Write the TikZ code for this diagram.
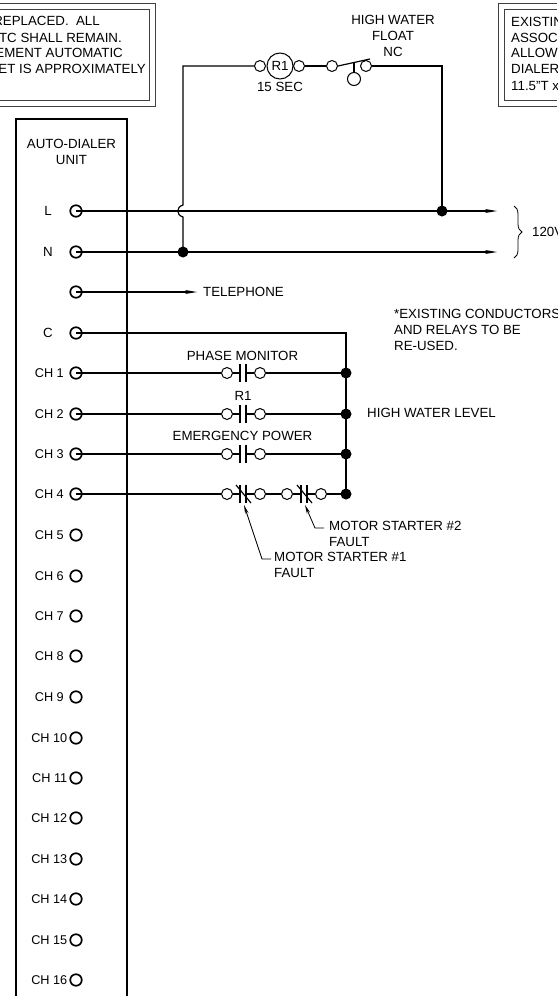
\documentclass[tikz,border=0pt]{standalone}
\usepackage{fontspec}
\setmainfont{Liberation Sans}
\usetikzlibrary{arrows.meta,decorations.pathreplacing}
\tikzset{
  wire/.style={line width=1.2pt},
  feed/.style={wire,-{Stealth[length=12pt,width=4pt]}},
  leader/.style={line width=0.8pt,-{Stealth[length=9pt,width=3.5pt]}},
  frame/.style={line width=1pt,black!75},
  term/.style={circle,draw,line width=1.7pt,minimum size=11.5pt,inner sep=0pt},
  contact/.style={circle,draw,line width=1pt,minimum size=11pt,inner sep=0pt},
  blob/.style={circle,fill,minimum size=11pt,inner sep=0pt},
  lbl/.style={font=\fontsize{13.3}{16}\selectfont,inner sep=0pt,align=center},
  chan/.style={font=\fontsize{12.7}{16}\selectfont,inner sep=0pt,anchor=east},
  note/.style={lbl,align=left}
}
\begin{document}
\begin{tikzpicture}[x=1pt,y=-1pt]
  \useasboundingbox (0,0) rectangle (557,996);
  % note boxes, cut by the sheet edge
  \draw[frame] (0,3) -- (155,3) -- (155,106) -- (0,106);
  \draw[frame] (0,9) -- (149,9) -- (149,100) -- (0,100);
  \draw[frame] (557,3) -- (498,3) -- (498,106) -- (557,106);
  \draw[frame] (557,9) -- (504,9) -- (504,100) -- (557,100);
  \node[lbl,anchor=east] (left1) at (100,21) {REPLACED.\ \ ALL};
  \node[lbl,anchor=east] (left2) at (122,38) {TC SHALL REMAIN.};
  \node[lbl,anchor=east] (left3) at (123,53) {EMENT AUTOMATIC};
  \node[lbl,anchor=east] (left4) at (146,69) {ET IS APPROXIMATELY};
  \node[note,anchor=west] (right1) at (511,22) {EXISTIN};
  \node[note,anchor=west] (right2) at (511,38) {ASSOC};
  \node[note,anchor=west] (right3) at (511,53) {ALLOW};
  \node[note,anchor=west] (right4) at (511,69) {DIALER};
  \node[note,anchor=west] (right5) at (511,86) {11.5"T x};
  % dialer unit
  \draw[line width=1.6pt] (16,996) -- (16,119) -- (127,119) -- (127,996);
  \node[lbl] (unit) at (71.5,152) {AUTO-DIALER\\UNIT};
  \node[term] (tL) at (76,211) {};
  \node[term] (tN) at (76,252) {};
  \node[term] (tT) at (76,292) {};
  \node[term] (tC) at (76,333) {};
  \node[lbl] (lL) at (48,211) {L};
  \node[lbl] (lN) at (48,252) {N};
  \node[lbl] (lC) at (48,333) {C};
  \foreach \n/\y in {1/373,2/414,3/454,4/494,5/535,6/576,7/616,8/656,9/697}{
    \node[term] (ch\n) at (76,\y) {};
    \node[chan] (lch\n) at (64,\y) {CH \n};
  }
  \foreach \n/\y in {10/738,11/778,12/818,13/859,14/899,15/940,16/980}{
    \node[term] (ch\n) at (76,\y) {};
    \node[chan] (lch\n) at (67.5,\y) {CH \n};
  }
  % 120V feed
  \node[blob] (dotL) at (442,211) {};
  \node[blob] (dotN) at (183,252) {};
  \coordinate (endL) at (497,211);
  \coordinate (endN) at (497,252);
  \draw[feed] (tL.center) -- (endL);
  \draw[feed] (tN.center) -- (endN);
  \coordinate (braceT) at (514,206);
  \coordinate (braceB) at (514,258);
  \draw[line width=0.8pt,decorate,decoration={brace,mirror,amplitude=8pt}] (braceB) -- (braceT);
  \node[lbl,anchor=west] (volts) at (532,232) {120V};
  % relay and float
  \node[contact] (r1a) at (260,66) {};
  \node[circle,draw,line width=1pt,minimum size=26pt,inner sep=0pt,lbl] (r1) at (280,66) {R1};
  \node[contact] (r1b) at (299,66) {};
  \node[contact] (sw1) at (332,66) {};
  \node[contact] (sw2) at (366,66) {};
  \node[circle,draw,line width=1pt,minimum size=13pt,inner sep=0pt] (flt) at (354,79) {};
  \node[lbl] (r1t) at (280,87) {15 SEC};
  \node[lbl] (fltt) at (393,36) {HIGH WATER\\FLOAT\\NC};
  \coordinate (jumpS) at (183,217);
  \coordinate (jumpN) at (183,205);
  \coordinate (arm) at (370,59);
  \coordinate (armm) at (354,61.8);
  \draw[wire] (dotN.center) -- (jumpS) .. controls (176,215) and (176,207) .. (jumpN) |- (r1a.west);
  \draw[wire] (r1b) -- (sw1);
  \draw[wire] (sw1.east) -- (arm);
  \draw[wire] (armm) -- (flt.north);
  \draw[wire] (sw2.east) -| (dotL.center);
  % telephone
  \coordinate (endT) at (197,292);
  \draw[feed] (tT.center) -- (endT);
  \node[lbl,anchor=west] (telt) at (203,292) {TELEPHONE};
  % channel contacts
  \node[blob] (dot1) at (346,373) {};
  \node[blob] (dot2) at (346,414) {};
  \node[blob] (dot3) at (346,454) {};
  \node[blob] (dot4) at (346,494) {};
  \draw[wire] (tC.center) -| (dot4.center);
  \foreach \n/\y in {1/373,2/414,3/454,4/494}{
    \node[contact] (a\n) at (227,\y) {};
    \node[contact] (b\n) at (260,\y) {};
    \coordinate (p\n) at (240,\y);
    \coordinate (q\n) at (246,\y);
    \draw[wire] (ch\n.center) -- (a\n.west);
    \draw[wire] (a\n.east) -- (p\n);
    \draw[wire] (q\n) -- (b\n.west);
    \draw[wire] ([yshift=-9pt]p\n) -- ([yshift=9pt]p\n);
    \draw[wire] ([yshift=-9pt]q\n) -- ([yshift=9pt]q\n);
  }
  \foreach \n in {1,2,3}{
    \draw[wire] (b\n.east) -- (dot\n.center);
  }
  \node[contact] (c4) at (287,494) {};
  \node[contact] (d4) at (321,494) {};
  \coordinate (u4) at (301,494);
  \coordinate (v4) at (307,494);
  \draw[wire] (b4) -- (c4);
  \draw[wire] (c4.east) -- (u4);
  \draw[wire] (v4) -- (d4.west);
  \draw[wire] (d4.east) -- (dot4.center);
  \draw[wire] ([yshift=-9pt]u4) -- ([yshift=9pt]u4);
  \draw[wire] ([yshift=-9pt]v4) -- ([yshift=9pt]v4);
  \coordinate (s1a) at (236,485);
  \coordinate (s1b) at (251,503);
  \coordinate (s2a) at (297,485);
  \coordinate (s2b) at (312,503);
  \draw[wire] (s1a) -- (s1b);
  \draw[wire] (s2a) -- (s2b);
  \node[lbl] (phase) at (242.5,356) {PHASE MONITOR};
  \node[lbl] (relay) at (243,396) {R1};
  \node[lbl] (emerg) at (242.5,436) {EMERGENCY POWER};
  \node[lbl,anchor=west] (level) at (367,413) {HIGH WATER LEVEL};
  \node[note,anchor=north west] (exist) at (394,309) {*EXISTING CONDUCTORS\\AND RELAYS TO BE\\RE-USED.};
  % starter leaders
  \node[note,anchor=north west] (ms2) at (329,521) {MOTOR STARTER \#2\\FAULT};
  \node[note,anchor=north west] (ms1) at (274,552) {MOTOR STARTER \#1\\FAULT};
  \coordinate (tip1) at (244,505);
  \coordinate (tip2) at (305,505);
  \coordinate (bend1) at (262,559);
  \coordinate (bend2) at (315,528);
  \coordinate (tail1) at (271,559);
  \coordinate (tail2) at (324,528);
  \draw[leader] (tail1) -- (bend1) -- (tip1);
  \draw[leader] (tail2) -- (bend2) -- (tip2);
\end{tikzpicture}
\end{document}
